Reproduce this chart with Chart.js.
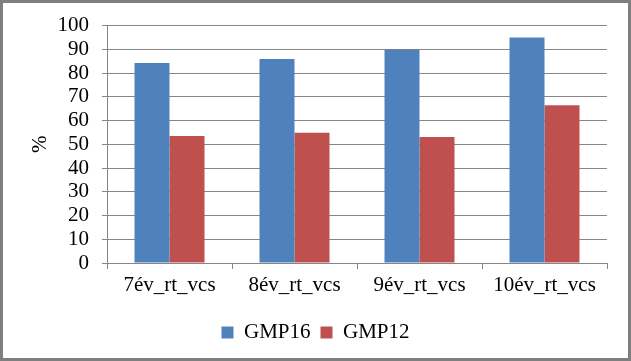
<!DOCTYPE html>
<html lang="hu">
  <head>
    <meta charset="utf-8" />
    <title>GMP16 / GMP12</title>
    <script src="https://cdn.jsdelivr.net/npm/chart.js"></script>
    <style>
      html, body { margin: 0; padding: 0; background: #fff; }
      .box { width: 631px; height: 361px; }
    </style>
  </head>
  <body>
    <div class="box"><canvas id="myChart" width="631" height="361"></canvas></div>
    <script>
      const categories = ["7év_rt_vcs", "8év_rt_vcs", "9év_rt_vcs", "10év_rt_vcs"];
      const gmp16 = [84.2, 85.9, 89.8, 95.0];
      const gmp12 = [53.5, 54.9, 53.1, 66.4];
      const yTicks = { min: 0, max: 100, step: 10 };

      // white background + grey frame round the whole picture
      const frame = {
        id: "frame",
        beforeDraw(chart) {
          const c = chart.ctx;
          c.save();
          c.fillStyle = "#fff";
          c.fillRect(0, 0, chart.width, chart.height);
          c.restore();
        },
        afterDraw(chart) {
          const c = chart.ctx;
          c.save();
          c.strokeStyle = "#7f7f7f";
          c.lineWidth = 3;
          c.strokeRect(1.5, 1.5, chart.width - 3, chart.height - 3);
          c.restore();
        }
      };

      const font = { family: "'Liberation Serif', 'Times New Roman', serif", size: 21 };
      const gridColor = "#868686";

      new Chart(document.getElementById("myChart"), {
        type: "bar",
        data: {
          labels: categories,
          datasets: [
            { label: "GMP16", data: gmp16, backgroundColor: "#4F81BD" },
            { label: "GMP12", data: gmp12, backgroundColor: "#C0504D" }
          ]
        },
        plugins: [frame],
        options: {
          responsive: false,
          animation: false,
          devicePixelRatio: 1,
          categoryPercentage: 0.56,
          barPercentage: 1,
          layout: { padding: { top: 23, right: 24, bottom: 8, left: 24 } },
          plugins: {
            tooltip: { enabled: false },
            legend: {
              position: "bottom",
              labels: {
                color: "#000",
                font: font,
                boxWidth: 12,
                boxHeight: 12,
                padding: 10
              }
            }
          },
          scales: {
            x: {
              grid: { offset: true, drawOnChartArea: false, tickLength: 6, color: gridColor },
              border: { color: gridColor },
              ticks: { color: "#000", font: font, padding: 4, maxRotation: 0 },
              afterFit(scale) { scale.height = 49; }
            },
            y: {
              min: yTicks.min,
              max: yTicks.max,
              ticks: { stepSize: yTicks.step, autoSkip: false, color: "#000", font: font, padding: 13 },
              grid: { color: gridColor, tickLength: 5 },
              border: { color: gridColor },
              title: { display: true, text: "%", color: "#000", font: font, padding: { top: 4, bottom: 0 } },
              afterFit(scale) { scale.width = 83; }
            }
          }
        }
      });
    </script>
  </body>
</html>
